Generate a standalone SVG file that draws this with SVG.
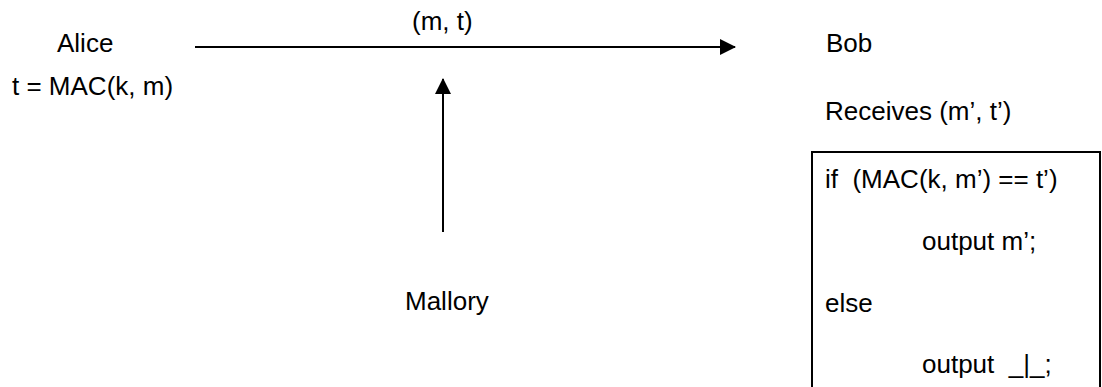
<svg xmlns="http://www.w3.org/2000/svg" width="1102" height="387" viewBox="0 0 1102 387">
<style>
text{font-family:"Liberation Sans",Arial,sans-serif;font-size:26px;fill:#000}
.ln{stroke:#000;stroke-width:2;fill:none}
</style>
<defs>
<marker id="ah" markerUnits="userSpaceOnUse" markerWidth="16" markerHeight="16" viewBox="0 0 16 16" refX="15" refY="8" orient="auto">
<path d="M0,0 L16,8 L0,16 Z" fill="#000"/>
</marker>
</defs>
<rect width="1102" height="387" fill="#fff"/>
<g id="alice">
<text x="57" y="52">Alice</text>
<text x="12" y="95">t = MAC(k, m)</text>
</g>
<g id="mallory">
<text x="405" y="310">Mallory</text>
</g>
<g id="bob">
<text x="826" y="52">Bob</text>
<text x="825" y="120">Receives (m’, t’)</text>
</g>
<g id="verify">
<rect class="ln" x="812" y="152" width="288" height="250"/>
<text x="825" y="188" xml:space="preserve">if  (MAC(k, m’) == t’)</text>
<text x="922" y="250">output m’;</text>
<text x="825" y="312">else</text>
<text x="922" y="373" xml:space="preserve">output  _|_;</text>
</g>
<g id="connectors">
<line class="ln" x1="195" y1="47" x2="735" y2="47" marker-end="url(#ah)"/>
<text x="412" y="30">(m, t)</text>
<line class="ln" x1="443" y1="232" x2="443" y2="79" marker-end="url(#ah)"/>
</g>
</svg>
